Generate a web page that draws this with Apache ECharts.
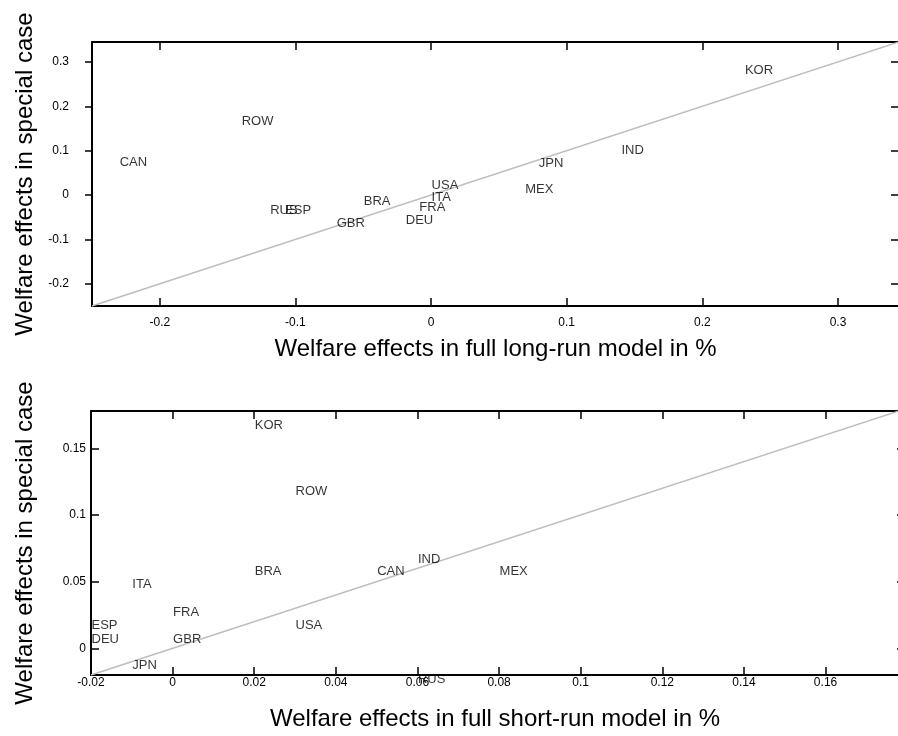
<!DOCTYPE html>
<html>
<head>
<meta charset="utf-8">
<script src="https://cdn.jsdelivr.net/npm/echarts@6/dist/echarts.min.js"></script>
<style>html,body{margin:0;padding:0;background:#fff}#c{width:898px;height:736px}</style>
</head>
<body>
<div id="c"></div>
<script>
// ---- data: top panel (long-run) ----
const longNames = ['CAN','ROW','RUS','ESP','BRA','GBR','DEU','FRA','ITA','USA','KOR','IND','JPN','MEX'];
const longX = [-0.230,-0.140,-0.119,-0.108,-0.050,-0.070,-0.019,-0.009,0.000,0.000,0.231,0.140,0.079,0.069];
const longY = [0.077,0.169,-0.032,-0.032,-0.012,-0.060,-0.053,-0.024,-0.003,0.026,0.285,0.105,0.075,0.017];
const longRange = [-0.25, 0.345];
const longXTicks = [-0.2,-0.1,0,0.1,0.2,0.3];
const longYTicks = [-0.2,-0.1,0,0.1,0.2,0.3];

// ---- data: bottom panel (short-run) ----
const shortNames = ['KOR','ROW','BRA','ITA','FRA','ESP','DEU','GBR','JPN','USA','CAN','IND','RUS','MEX'];
const shortX = [0.020,0.030,0.020,-0.010,0.000,-0.020,-0.020,0.000,-0.010,0.030,0.050,0.060,0.060,0.080];
const shortY = [0.168,0.119,0.059,0.049,0.028,0.018,0.008,0.008,-0.012,0.018,0.059,0.068,-0.022,0.059];
const shortRange = [-0.02, 0.178];
const shortXTicks = [-0.02,0,0.02,0.04,0.06,0.08,0.1,0.12,0.14,0.16];
const shortYTicks = [0,0.05,0.1,0.15];

const xTitleTop = 'Welfare effects in full long-run model in %';
const xTitleBottom = 'Welfare effects in full short-run model in %';
const yTitle = 'Welfare effects in special case';

const FONT = '"Liberation Sans", Arial, Helvetica, sans-serif';
const fmt = v => String(Number(Number(v).toFixed(4)));
const lineStyle = {color:'#000', width:2};

function xAx(gi, range, ticks, pos, showLab, margin, title, gap) {
  return {
    type:'value', gridIndex:gi, position:pos, min:range[0], max:range[1],
    splitLine:{show:false},
    axisLine:{show:true, onZero:false, lineStyle},
    axisTick:{show:true, inside:true, length:8, customValues:ticks, lineStyle:{color:'#000',width:1.5}},
    axisLabel:{show:showLab, customValues:ticks, formatter:fmt, margin:margin, color:'#000', fontSize:12, fontFamily:FONT},
    name: title || '', nameLocation:'middle', nameGap: gap || 0, nameMoveOverlap:false,
    nameTextStyle:{color:'#000', fontSize:24, fontFamily:FONT}
  };
}
function yAx(gi, range, ticks, pos, showLab, margin, inside, tlen, title, gap) {
  return {
    type:'value', gridIndex:gi, position:pos, min:range[0], max:range[1],
    splitLine:{show:false},
    axisLine:{show:true, onZero:false, lineStyle},
    axisTick:{show:true, inside:inside, length:tlen, customValues:ticks, lineStyle:{color:'#000',width:1.5}},
    axisLabel:{show:showLab, customValues:ticks, formatter:fmt, margin:margin, color:'#000', fontSize:12, fontFamily:FONT},
    name: title || '', nameLocation:'middle', nameGap: gap || 0, nameMoveOverlap:false,
    nameTextStyle:{color:'#000', fontSize:24, fontFamily:FONT}
  };
}

function pts(names, xs, ys) { return names.map((n,i)=>[xs[i], ys[i], n]); }

function labelSeries(xi, yi, data) {
  return {
    type:'scatter', xAxisIndex:xi, yAxisIndex:yi, data:data, clip:false,
    symbolSize:1, itemStyle:{color:'rgba(0,0,0,0)'}, z:5,
    label:{show:true, position:'right', distance:0, offset:[0,1.5], formatter:p=>p.data[2],
           color:'#000', fontSize:13, fontFamily:FONT},
    emphasis:{disabled:true}, silent:true
  };
}
function diagSeries(xi, yi, range) {
  return {
    type:'line', xAxisIndex:xi, yAxisIndex:yi, data:[[range[0],range[0]],[range[1],range[1]]],
    symbol:'none', lineStyle:{color:'#bdbdbd', width:1.5}, z:2, silent:true
  };
}

const chart = echarts.init(document.getElementById('c'), null, {renderer:'canvas'});
chart.setOption({
  animation:false,
  backgroundColor:'#fff',
  textStyle:{fontFamily:FONT},
  grid:[
    {left:92, top:42, width:807, height:264, outerBoundsMode:'none', containLabel:false},
    {left:91, top:411, width:808, height:264, outerBoundsMode:'none', containLabel:false}
  ],
  xAxis:[
    xAx(0, longRange, longXTicks, 'bottom', true, 11, xTitleTop, 31),
    xAx(0, longRange, longXTicks, 'top', false, 0),
    xAx(1, shortRange, shortXTicks, 'bottom', true, 2, xTitleBottom, 32),
    xAx(1, shortRange, shortXTicks, 'top', false, 0)
  ],
  yAxis:[
    yAx(0, longRange, longYTicks, 'left', true, 23, false, 7, yTitle, 55),
    yAx(0, longRange, longYTicks, 'right', false, 0, true, 8),
    yAx(1, shortRange, shortYTicks, 'left', true, 5, true, 8, yTitle, 54),
    yAx(1, shortRange, shortYTicks, 'right', false, 0, true, 2)
  ],
  series:[
    diagSeries(0, 0, longRange),
    labelSeries(0, 0, pts(longNames, longX, longY)),
    diagSeries(2, 2, shortRange),
    labelSeries(2, 2, pts(shortNames, shortX, shortY))
  ]
});
</script>
</body>
</html>
